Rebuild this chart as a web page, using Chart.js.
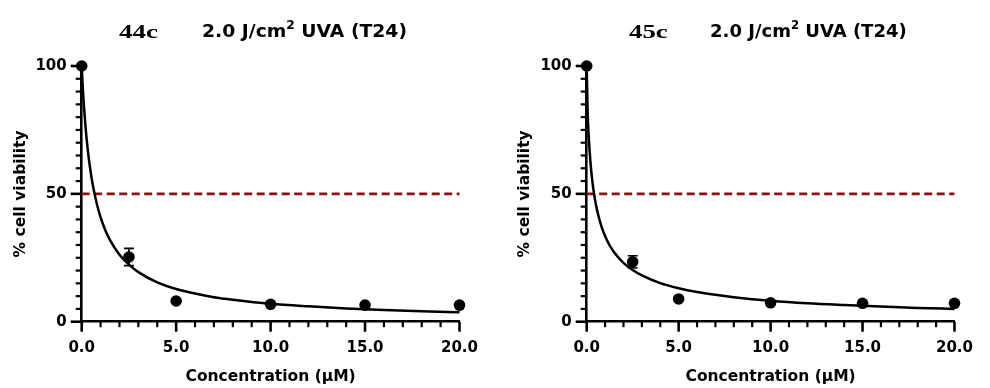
<!DOCTYPE html>
<html><head><meta charset="utf-8">
<script src="https://cdn.jsdelivr.net/npm/chart.js@4/dist/chart.umd.min.js"></script>
<style>
html,body{margin:0;padding:0;background:#fff;}
#wrap{position:relative;width:990px;height:388px;overflow:hidden;background:#fff;}
canvas{position:absolute;top:0;}
</style></head><body>
<div id="wrap">
<canvas id="c1" width="495" height="388" style="left:0"></canvas>
<canvas id="c2" width="495" height="388" style="left:495px"></canvas>
</div>
<script>
// ---- data ----
const concentrations = [0, 2.5, 5, 10, 15, 20];
const viability44c = [100, 25.3, 8.1, 6.8, 6.5, 6.5];
const sd44c = [0, 3.4, 0, 0, 0, 0];
const viability45c = [100, 23.4, 8.9, 7.4, 7.2, 7.2];
const sd45c = [0, 2.4, 0, 0, 0, 0];

const fitX44c = [0, 0.05, 0.1, 0.2, 0.3, 0.4, 0.5, 0.6, 0.8, 1, 1.25, 1.5, 2, 2.5, 3, 4, 5, 6, 7, 8, 10, 12, 14, 16, 18, 20];
const fitY44c = [100, 92.5, 86.3, 76.4, 68.7, 62.5, 57.3, 53.0, 46.1, 40.8, 35.8, 31.9, 26.2, 22.3, 19.4, 15.4, 12.8, 11.0, 9.6, 8.6, 7.0, 6.0, 5.2, 4.6, 4.1, 3.7];
const fitX45c = [0, 0.05, 0.1, 0.2, 0.3, 0.4, 0.5, 0.6, 0.8, 1, 1.25, 1.5, 2, 2.5, 3, 4, 5, 6, 7, 8, 10, 12, 14, 16, 18, 20];
const fitY45c = [100, 82.6, 73.9, 62.7, 55.4, 50.0, 45.8, 42.5, 37.3, 33.5, 29.8, 27.1, 23.0, 20.2, 18.1, 15.1, 13.1, 11.6, 10.5, 9.6, 8.2, 7.2, 6.5, 5.9, 5.4, 5.0];

const halfLineX = [0, 20];
const halfLineY = [50, 50];

const xTickValues = [0, 5, 10, 15, 20];
const yTickValues = [0, 50, 100];
const compoundLabels = ['44c', '45c'];
const doseParts = ['2.0 J/cm', '2', ' UVA (T24)'];
const xTitle = 'Concentration (µM)';
const yTitle = '% cell viability';

// ---- helpers ----
const SANS = 'DejaVu Sans';
const pts = (xs, ys) => xs.map((x, i) => ({x: x, y: ys[i]}));

const decor = {
  id: 'decor',
  afterDatasetsDraw(chart, args, o) {
    const ctx = chart.ctx, xs = chart.scales.x, ys = chart.scales.y;
    ctx.save();
    ctx.strokeStyle = '#000'; ctx.lineWidth = 1.7;
    o.xv.forEach((xv, i) => {
      const e = o.sd[i]; if (!e) return;
      const px = xs.getPixelForValue(xv);
      const t = ys.getPixelForValue(o.yv[i] + e), b = ys.getPixelForValue(o.yv[i] - e);
      ctx.beginPath();
      ctx.moveTo(px, t); ctx.lineTo(px, b);
      ctx.moveTo(px - 5, t); ctx.lineTo(px + 5, t);
      ctx.moveTo(px - 5, b); ctx.lineTo(px + 5, b);
      ctx.stroke();
    });
    ctx.restore();
  },
  afterDraw(chart, args, o) {
    const ctx = chart.ctx, xs = chart.scales.x, ys = chart.scales.y;
    const area = chart.chartArea;
    ctx.save();
    ctx.strokeStyle = '#000';
    for (let v = xs.min; v <= xs.max; v += 1) {
      const major = xTickValues.includes(v);
      const px = xs.getPixelForValue(v);
      ctx.lineWidth = major ? 2.6 : 2.2;
      ctx.beginPath(); ctx.moveTo(px, area.bottom); ctx.lineTo(px, area.bottom + (major ? 10 : 5.5)); ctx.stroke();
    }
    for (let v = ys.min; v <= ys.max; v += 5) {
      const major = yTickValues.includes(v);
      const py = ys.getPixelForValue(v);
      ctx.lineWidth = major ? 2.6 : 2.2;
      ctx.beginPath(); ctx.moveTo(area.left, py); ctx.lineTo(area.left - (major ? 11 : 6), py); ctx.stroke();
    }
    ctx.fillStyle = '#000';
    ctx.textBaseline = 'alphabetic';
    ctx.textAlign = 'left';
    ctx.font = 'bold 19.5px "Liberation Serif"';
    let w = ctx.measureText(o.label).width;
    ctx.save();
    ctx.translate(o.labelSpan[0], o.labelBase);
    ctx.scale((o.labelSpan[1] - o.labelSpan[0]) / w, 1);
    ctx.fillText(o.label, 0, 0);
    ctx.restore();
    const fMain = 'bold 18.5px "' + SANS + '"', fSup = 'bold 12px "' + SANS + '"';
    ctx.font = fMain; const w1 = ctx.measureText(doseParts[0]).width; const w3 = ctx.measureText(doseParts[2]).width;
    ctx.font = fSup; const w2 = ctx.measureText(doseParts[1]).width;
    const sc = (o.doseSpan[1] - o.doseSpan[0]) / (w1 + w2 + w3);
    ctx.save();
    ctx.translate(o.doseSpan[0], o.doseBase);
    ctx.scale(sc, 1);
    ctx.font = fMain; ctx.fillText(doseParts[0], 0, 0);
    ctx.font = fSup; ctx.fillText(doseParts[1], w1, -7.7);
    ctx.font = fMain; ctx.fillText(doseParts[2], w1 + w2, 0);
    ctx.restore();
    ctx.restore();
  }
};

function makeChart(id, yv, sd, fx, fy, p) {
  return new Chart(document.getElementById(id), {
    type: 'scatter',
    data: {
      datasets: [
        {data: pts(concentrations, yv), pointRadius: 5.8, pointBackgroundColor: '#000', pointBorderWidth: 0, borderColor: '#000', showLine: false, order: 0, clip: false},
        {data: pts(fx, fy), showLine: true, pointRadius: 0, borderColor: '#000', borderWidth: 2.5, cubicInterpolationMode: 'monotone', order: 1, clip: false},
        {data: pts(halfLineX, halfLineY), showLine: true, pointRadius: 0, borderColor: '#8a1212', borderWidth: 2.6, borderDash: [8, 4.5], order: 2, clip: false}
      ]
    },
    options: {
      responsive: false, animation: false, devicePixelRatio: 1,
      layout: {padding: {top: 66, right: p.padRight, left: 0, bottom: 0}},
      plugins: {
        legend: {display: false}, tooltip: {enabled: false},
        decor: {xv: concentrations, yv: yv, sd: sd, label: p.label, labelSpan: p.labelSpan, labelBase: 38.3, doseSpan: p.doseSpan, doseBase: 36.7}
      },
      scales: {
        x: {
          type: 'linear', min: 0, max: 20,
          border: {display: true, color: '#000', width: 2.6},
          grid: {display: false, drawTicks: false},
          ticks: {stepSize: 5, autoSkip: false, maxRotation: 0, padding: 17, color: '#000',
                  font: {family: SANS, weight: 'bold', size: 15}, callback: v => Number(v).toFixed(1)},
          title: {display: true, text: xTitle, color: '#000', font: {family: SANS, weight: 'bold', size: 15.5}, padding: {top: 0, bottom: 1.5}},
          afterFit: s => { s.height = 66.3; }
        },
        y: {
          type: 'linear', min: 0, max: 100,
          border: {display: true, color: '#000', width: 2.6},
          grid: {display: false, drawTicks: false},
          ticks: {stepSize: 50, autoSkip: false, padding: 15, color: '#000',
                  font: {family: SANS, weight: 'bold', size: 15}},
          title: {display: true, text: yTitle, color: '#000', font: {family: SANS, weight: 'bold', size: 15.5}, padding: {top: p.yTitlePad, bottom: 0}},
          afterFit: s => { s.width = p.yWidth; }
        }
      }
    },
    plugins: [decor]
  });
}

makeChart('c1', viability44c, sd44c, fitX44c, fitY44c,
  {padRight: 31, yWidth: 81.7, yTitlePad: 11.5, label: compoundLabels[0], labelSpan: [119, 158], doseSpan: [202, 407]});
makeChart('c2', viability45c, sd45c, fitX45c, fitY45c,
  {padRight: 21.7, yWidth: 91.7, yTitlePad: 20.5, label: compoundLabels[1], labelSpan: [134, 172.7], doseSpan: [215, 411.7]});
</script>
</body></html>
